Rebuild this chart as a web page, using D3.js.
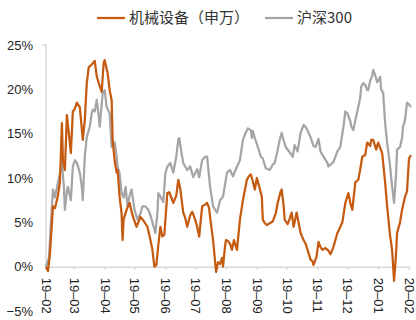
<!DOCTYPE html>
<html>
<head>
<meta charset="utf-8">
<script src="https://cdn.jsdelivr.net/npm/d3@7"></script>
<style>
  body { margin: 0; background: #fff; }
  svg text { font-family: "Liberation Sans", Arial, "Noto Sans CJK SC", sans-serif; }
</style>
</head>
<body>
<script>
// 累计涨跌幅 (%), 2019-02 ~ 2020-02
const seriesNames = ['机械设备（申万）', '沪深300'];
const seriesColors = ['#C55A11', '#A5A5A5'];

const machDates = ['2019-02-01','2019-02-03','2019-02-05','2019-02-08','2019-02-10','2019-02-13','2019-02-15','2019-02-17','2019-02-18','2019-02-20','2019-02-22','2019-02-24','2019-02-26','2019-02-28','2019-03-02','2019-03-04','2019-03-07','2019-03-10','2019-03-12','2019-03-14','2019-03-16','2019-03-19','2019-03-22','2019-03-24','2019-03-26','2019-03-29','2019-03-31','2019-04-01','2019-04-04','2019-04-06','2019-04-08','2019-04-09','2019-04-11','2019-04-13','2019-04-14','2019-04-16','2019-04-18','2019-04-19','2019-04-20','2019-04-23','2019-04-26','2019-04-29','2019-05-03','2019-05-07','2019-05-10','2019-05-14','2019-05-17','2019-05-19','2019-05-21','2019-05-23','2019-05-25','2019-05-27','2019-05-29','2019-05-31','2019-06-03','2019-06-05','2019-06-07','2019-06-09','2019-06-12','2019-06-14','2019-06-16','2019-06-19','2019-06-21','2019-06-23','2019-06-26','2019-06-28','2019-07-01','2019-07-03','2019-07-05','2019-07-08','2019-07-11','2019-07-13','2019-07-15','2019-07-16','2019-07-19','2019-07-22','2019-07-24','2019-07-26','2019-07-28','2019-07-29','2019-07-31','2019-08-01','2019-08-03','2019-08-05','2019-08-07','2019-08-09','2019-08-12','2019-08-15','2019-08-18','2019-08-22','2019-08-24','2019-08-26','2019-08-28','2019-08-30','2019-09-01','2019-09-03','2019-09-06','2019-09-07','2019-09-09','2019-09-11','2019-09-14','2019-09-17','2019-09-20','2019-09-22','2019-09-25','2019-09-26','2019-09-28','2019-09-29','2019-10-02','2019-10-04','2019-10-06','2019-10-08','2019-10-11','2019-10-15','2019-10-18','2019-10-20','2019-10-22','2019-10-25','2019-10-27','2019-10-28','2019-10-31','2019-11-02','2019-11-04','2019-11-06','2019-11-09','2019-11-12','2019-11-14','2019-11-17','2019-11-19','2019-11-21','2019-11-24','2019-11-26','2019-11-29','2019-12-02','2019-12-04','2019-12-06','2019-12-09','2019-12-12','2019-12-14','2019-12-16','2019-12-19','2019-12-21','2019-12-24','2019-12-25','2019-12-27','2019-12-30','2020-01-01','2020-01-03','2020-01-05','2020-01-08','2020-01-10','2020-01-13','2020-01-15','2020-01-17','2020-01-19','2020-01-20','2020-01-23','2020-01-25','2020-01-28','2020-01-30','2020-02-01','2020-02-03'];
const machValues = [0,-0.5,1.5,6.8,6.6,8.0,9.5,16.2,12,10.9,17.1,15,12.8,17.5,17.8,18.5,18.0,14.3,16.5,20.7,22.5,22.8,23.2,21.5,20.7,19.7,23.0,23.3,21.8,19.9,18.8,14.3,12.0,10.6,10.9,7.9,6.0,3.0,5.3,6.4,7.2,5.8,4.5,5.6,5.2,4.5,3.0,1.9,0,0.2,2.5,4.5,3.4,3.6,8.3,8.4,7.8,7.2,8.0,9.8,8.8,6.1,5.5,4.5,5.8,6.2,5.3,4.5,3.4,6.8,7.0,7.2,6.6,5.6,3.0,-0.6,0.5,0.3,1.0,0,2.3,3.0,2.9,2.6,1.9,3.0,1.9,5.3,7.5,9.8,10.2,10.4,9.6,8.7,10.0,9.2,7.9,5.3,4.9,4.7,4.9,5.1,6.0,7.2,8.5,8.7,6.8,5.3,4.8,5.4,6.1,4.5,6.1,3.8,3.0,2.6,1.9,0.8,0.6,0.2,1.1,2.8,2.2,1.9,2.1,1.8,1.4,2.2,3.0,3.8,4.5,5.0,7.2,8.3,7.2,6.4,9.5,9.8,11.0,12.4,12.6,14.0,13.6,14.3,14.3,13.2,14.0,13.4,12.8,9.5,6.8,3.5,1.9,-1.6,1.5,3.8,5.0,6.4,7.9,8.5,12.2,12.6];

const hs300Dates = ['2019-02-01','2019-02-04','2019-02-06','2019-02-08','2019-02-10','2019-02-13','2019-02-15','2019-02-17','2019-02-19','2019-02-20','2019-02-22','2019-02-23','2019-02-25','2019-02-26','2019-02-28','2019-03-02','2019-03-04','2019-03-07','2019-03-09','2019-03-10','2019-03-12','2019-03-14','2019-03-17','2019-03-19','2019-03-20','2019-03-22','2019-03-24','2019-03-26','2019-03-27','2019-03-30','2019-04-01','2019-04-03','2019-04-06','2019-04-08','2019-04-11','2019-04-13','2019-04-14','2019-04-16','2019-04-18','2019-04-20','2019-04-22','2019-04-24','2019-04-26','2019-04-28','2019-05-01','2019-05-04','2019-05-07','2019-05-09','2019-05-12','2019-05-15','2019-05-17','2019-05-19','2019-05-22','2019-05-24','2019-05-25','2019-05-27','2019-05-29','2019-05-30','2019-06-01','2019-06-03','2019-06-06','2019-06-09','2019-06-12','2019-06-14','2019-06-15','2019-06-17','2019-06-19','2019-06-23','2019-06-26','2019-06-29','2019-07-03','2019-07-05','2019-07-08','2019-07-11','2019-07-13','2019-07-16','2019-07-19','2019-07-23','2019-07-26','2019-07-29','2019-08-02','2019-08-05','2019-08-08','2019-08-12','2019-08-15','2019-08-18','2019-08-20','2019-08-23','2019-08-26','2019-08-27','2019-08-28','2019-08-30','2019-09-02','2019-09-05','2019-09-07','2019-09-10','2019-09-14','2019-09-17','2019-09-19','2019-09-22','2019-09-24','2019-09-26','2019-09-28','2019-09-30','2019-10-04','2019-10-07','2019-10-09','2019-10-12','2019-10-15','2019-10-18','2019-10-21','2019-10-25','2019-10-28','2019-10-30','2019-11-02','2019-11-04','2019-11-07','2019-11-11','2019-11-12','2019-11-14','2019-11-17','2019-11-21','2019-11-22','2019-11-24','2019-11-25','2019-11-27','2019-11-29','2019-12-01','2019-12-04','2019-12-05','2019-12-07','2019-12-09','2019-12-11','2019-12-12','2019-12-14','2019-12-15','2019-12-17','2019-12-19','2019-12-21','2019-12-22','2019-12-24','2019-12-26','2019-12-27','2019-12-29','2019-12-31','2020-01-03','2020-01-04','2020-01-06','2020-01-08','2020-01-10','2020-01-13','2020-01-15','2020-01-17','2020-01-19','2020-01-20','2020-01-23','2020-01-25','2020-01-26','2020-01-28','2020-01-30','2020-02-01','2020-02-03'];
const hs300Values = [0,1,5,8.7,7.8,9.5,10.5,11.7,9,6.4,8.5,9.0,8.0,7.5,11.3,12.0,11.7,10.6,9,7.5,12.4,14.6,15.8,17.3,17.7,17.5,18.8,17.0,15.8,19.6,19.9,18.0,17.3,13.5,14.0,12.5,11.3,10.5,8.3,7.8,9.0,6.8,8.0,8.7,6.4,5.3,6.0,6.8,6.8,6.4,5.8,5.0,3.8,6.0,8.3,7.9,7.5,7.3,10.5,11.3,11.7,10.6,12.4,14.3,14.5,13.0,11.7,10.9,11.3,10.1,11.0,10.1,12.0,12.4,12.4,9.0,6.8,6.1,7.5,7.9,10.6,10.9,10.2,11.3,12.0,14.3,14.9,15.6,15.4,14.5,15.3,14.5,13.5,12.4,12.2,11.1,10.9,11.5,11.7,13.2,14.3,15.1,14.2,13.5,12.9,12.4,13.7,13.0,15.1,16.0,15.6,14.6,13.6,13.5,14.4,13.0,12.4,11.7,11.3,11.5,11.8,13.0,13.2,13.5,14.3,15.7,17.5,17.3,16.4,15.8,15.4,16.5,17.5,18.0,19.1,20.3,20.7,20.5,19.9,19.9,21.0,21.5,22.2,21.6,20.8,21.4,20.0,19.6,16.2,14.0,11.3,9.0,7.2,10.5,13.2,13.5,14.5,15.8,16.5,18.5,18.3,18.0];

const yTicks = [-5, 0, 5, 10, 15, 20, 25];

const width = 416, height = 320;
const parse = d3.timeParse('%Y-%m-%d');

const svg = d3.select('body').append('svg')
  .attr('width', width)
  .attr('height', height);

const x = d3.scaleTime()
  .domain([parse('2019-02-01'), parse('2020-02-01')])
  .range([46, 409]);

const y = d3.scaleLinear()
  .domain([-5, 25])
  .range([311, 45]);

// y axis: labels only, line drawn from 0 to 25
const yAxis = svg.append('g')
  .attr('transform', 'translate(46,0)')
  .call(d3.axisLeft(y).tickValues(yTicks).tickSize(0).tickPadding(13)
    .tickFormat(d => (d < 0 ? '\u2212' + Math.abs(d) : d) + '%'));
yAxis.select('.domain').remove();
yAxis.selectAll('text').attr('font-size', 13).attr('fill', '#222');

svg.append('path')
  .attr('d', `M42,${y(25)}H46V${y(0)}`)
  .attr('fill', 'none')
  .attr('stroke', '#d9d9d9')
  .attr('stroke-width', 1.5);

// x axis at 0%
const xAxis = svg.append('g')
  .attr('transform', `translate(0,${y(0)})`)
  .call(d3.axisBottom(x).ticks(d3.timeMonth.every(1)).tickSize(3).tickSizeOuter(0)
    .tickFormat(d3.timeFormat('%y–%m')));
xAxis.select('.domain').attr('stroke', '#d9d9d9').attr('stroke-width', 1.5);
xAxis.selectAll('.tick line').attr('stroke', '#d9d9d9').attr('stroke-width', 1.5);
xAxis.selectAll('text')
  .attr('font-size', 13)
  .attr('fill', '#222')
  .attr('transform', 'rotate(90)')
  .attr('text-anchor', 'start')
  .attr('x', 11)
  .attr('y', 0)
  .attr('dy', '0.35em');

const line = d3.line()
  .x(d => x(d[0]))
  .y(d => y(d[1]));

const machData = machDates.map((d, i) => [parse(d), machValues[i]]);
const hs300Data = hs300Dates.map((d, i) => [parse(d), hs300Values[i]]);

svg.append('path')
  .datum(hs300Data)
  .attr('d', line)
  .attr('fill', 'none')
  .attr('stroke', seriesColors[1])
  .attr('stroke-width', 2.25)
  .attr('stroke-linejoin', 'round');

svg.append('path')
  .datum(machData)
  .attr('d', line)
  .attr('fill', 'none')
  .attr('stroke', seriesColors[0])
  .attr('stroke-width', 2.25)
  .attr('stroke-linejoin', 'round');

// legend
const legendX = [97, 265];
const legend = svg.selectAll('.legend')
  .data(seriesNames)
  .join('g')
  .attr('class', 'legend')
  .attr('transform', (d, i) => `translate(${legendX[i]},18)`);

legend.append('line')
  .attr('x1', 0).attr('x2', 28)
  .attr('stroke', (d, i) => seriesColors[i])
  .attr('stroke-width', 2.25);

legend.append('text')
  .attr('x', 32)
  .attr('dy', '0.35em')
  .attr('font-size', 15)
  .attr('fill', '#333')
  .style('font-family', '"Noto Sans CJK SC", sans-serif')
  .text(d => d);
</script>
</body>
</html>
